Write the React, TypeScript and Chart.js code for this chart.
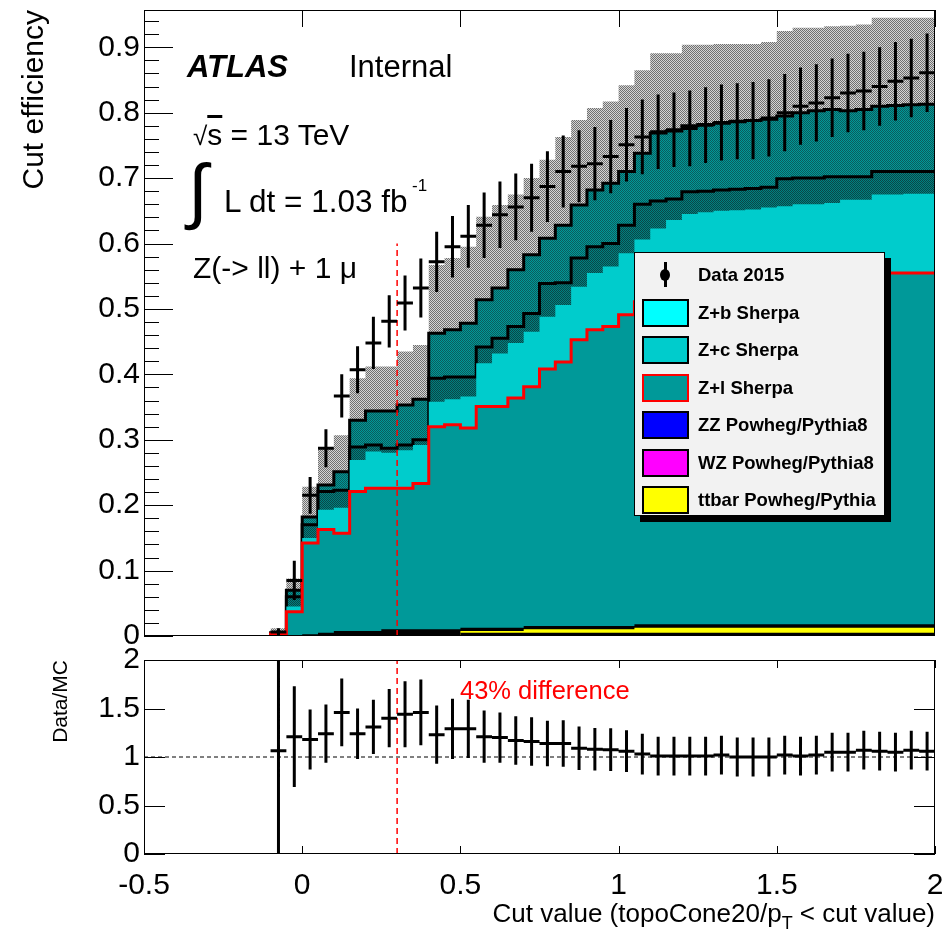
import React, { useEffect, useRef } from 'react';
import { Chart, registerables } from 'chart.js';

Chart.register(...registerables);

const FONT = '"Liberation Sans", Arial, Helvetica, sans-serif';

// ---- binning (cut value axis) ----
const X_MIN = -0.5;
const X_MAX = 2.0;
const BIN_START = -0.1;
const BIN_WIDTH = 0.05;
const CUT_VALUE = 0.3;

// ---- data (42 bins from -0.1 to 2.0) ----
const DATA = [0.006, 0.085, 0.215, 0.287, 0.367, 0.407, 0.448, 0.481, 0.509, 0.532,
  0.572, 0.595, 0.611, 0.628, 0.644, 0.656, 0.670, 0.687, 0.710, 0.718,
  0.722, 0.733, 0.751, 0.763, 0.771, 0.774, 0.776, 0.781, 0.785, 0.787,
  0.788, 0.792, 0.800, 0.810, 0.815, 0.823, 0.830, 0.833, 0.840, 0.848, 0.853, 0.861];
const DATA_ERR = [0.006, 0.03, 0.028, 0.029, 0.033, 0.036, 0.04, 0.04, 0.042, 0.045,
  0.046, 0.047, 0.048, 0.05, 0.051, 0.051, 0.052, 0.054, 0.055, 0.055,
  0.056, 0.056, 0.056, 0.057, 0.057, 0.057, 0.058, 0.058, 0.058, 0.058,
  0.059, 0.059, 0.059, 0.059, 0.059, 0.06, 0.06, 0.06, 0.06, 0.06, 0.06, 0.06];

// Z+l Sherpa (top of stack, red outline)
const ZL_TOP = [0.003, 0.037, 0.142, 0.163, 0.157, 0.221, 0.226, 0.226, 0.226, 0.233,
  0.320, 0.323, 0.318, 0.351, 0.351, 0.364, 0.381, 0.408, 0.419, 0.453,
  0.468, 0.473, 0.491, 0.511, 0.520, 0.527, 0.532, 0.535, 0.538, 0.540,
  0.542, 0.544, 0.546, 0.548, 0.550, 0.551, 0.552, 0.553, 0.555, 0.555, 0.555, 0.555];
// Z+c Sherpa (top of stack)
const ZC_TOP = [0.003, 0.045, 0.150, 0.193, 0.196, 0.269, 0.282, 0.280, 0.284, 0.292,
  0.358, 0.362, 0.366, 0.417, 0.432, 0.448, 0.465, 0.488, 0.506, 0.534,
  0.555, 0.565, 0.585, 0.606, 0.623, 0.636, 0.645, 0.648, 0.650, 0.651,
  0.652, 0.655, 0.657, 0.660, 0.660, 0.662, 0.667, 0.667, 0.675, 0.675, 0.676, 0.676];
// lower black outline
const STACK_LOW = [0.004, 0.060, 0.170, 0.221, 0.223, 0.289, 0.292, 0.287, 0.292, 0.300,
  0.394, 0.396, 0.396, 0.442, 0.455, 0.473, 0.493, 0.539, 0.540, 0.578,
  0.595, 0.600, 0.628, 0.660, 0.665, 0.668, 0.679, 0.680, 0.682, 0.683,
  0.684, 0.686, 0.699, 0.700, 0.700, 0.702, 0.702, 0.702, 0.710, 0.710, 0.710, 0.710];
// MC total (upper black outline)
const MC_TOTAL = [0.005, 0.070, 0.182, 0.231, 0.251, 0.330, 0.344, 0.344, 0.353, 0.362,
  0.463, 0.468, 0.478, 0.514, 0.532, 0.560, 0.583, 0.608, 0.628, 0.659,
  0.682, 0.692, 0.710, 0.738, 0.769, 0.772, 0.780, 0.782, 0.784, 0.786,
  0.788, 0.790, 0.795, 0.800, 0.803, 0.805, 0.803, 0.805, 0.810, 0.811, 0.812, 0.813];
// top of the uncertainty band
const BAND_TOP = [0.012, 0.088, 0.228, 0.287, 0.307, 0.394, 0.412, 0.412, 0.435, 0.445,
  0.567, 0.578, 0.595, 0.641, 0.659, 0.675, 0.700, 0.728, 0.763, 0.789,
  0.807, 0.817, 0.842, 0.865, 0.891, 0.891, 0.904, 0.904, 0.905, 0.905,
  0.905, 0.908, 0.925, 0.930, 0.930, 0.932, 0.933, 0.935, 0.945, 0.945, 0.945, 0.945];
// small backgrounds (ZZ, WZ, ttbar) outline band
const SMALL_BKG_TOP = [0.001, 0.0015, 0.0025, 0.005, 0.0076, 0.0076, 0.0076, 0.0102, 0.0102, 0.0102,
  0.0102, 0.0102, 0.0127, 0.0127, 0.0127, 0.0127, 0.0153, 0.0153, 0.0153, 0.0153,
  0.0153, 0.0153, 0.0153, 0.0178, 0.0178, 0.0178, 0.0178, 0.0178, 0.0178, 0.0178,
  0.0178, 0.0178, 0.0178, 0.0178, 0.0178, 0.0178, 0.0178, 0.0178, 0.0178, 0.0178, 0.0178, 0.0178];
const TTBAR_TOP = [0, 0, 0, 0, 0, 0, 0, 0, 0, 0,
  0, 0, 0.0076, 0.0076, 0.0076, 0.0076, 0.0102, 0.0102, 0.0102, 0.0102,
  0.0102, 0.0102, 0.0102, 0.0127, 0.0127, 0.0127, 0.0127, 0.0127, 0.0127, 0.0127,
  0.0127, 0.0127, 0.0127, 0.0127, 0.0127, 0.0127, 0.0127, 0.0127, 0.0127, 0.0127, 0.0127, 0.0127];
const TTBAR_BOTTOM = [0, 0, 0, 0, 0, 0, 0, 0, 0, 0,
  0, 0, 0.005, 0.005, 0.005, 0.005, 0.005, 0.005, 0.005, 0.005,
  0.005, 0.005, 0.005, 0.005, 0.005, 0.005, 0.005, 0.005, 0.005, 0.005,
  0.005, 0.005, 0.005, 0.005, 0.005, 0.005, 0.005, 0.005, 0.005, 0.005, 0.005, 0.005];

// Data/MC ratio
const RATIO = [1.065, 1.21, 1.18, 1.24, 1.46, 1.24, 1.31, 1.40, 1.44, 1.46,
  1.23, 1.29, 1.29, 1.21, 1.20, 1.17, 1.16, 1.14, 1.14, 1.09,
  1.08, 1.076, 1.06, 1.03, 1.01, 1.01, 1.01, 1.01, 1.02, 1.00,
  1.00, 1.00, 1.02, 1.01, 1.02, 1.05, 1.05, 1.07, 1.06, 1.05, 1.07, 1.06];
const RATIO_ERR = [2.0, 0.52, 0.31, 0.30, 0.35, 0.26, 0.28, 0.30, 0.34, 0.34,
  0.30, 0.31, 0.30, 0.27, 0.26, 0.25, 0.25, 0.235, 0.24, 0.225,
  0.22, 0.22, 0.215, 0.21, 0.20, 0.20, 0.20, 0.20, 0.20, 0.20,
  0.20, 0.20, 0.20, 0.20, 0.20, 0.20, 0.20, 0.20, 0.20, 0.20, 0.20, 0.20];

// ---- axes ----
const MAIN_Y_MAX = 0.957;
const MAIN_Y_MAJOR = [0, 0.1, 0.2, 0.3, 0.4, 0.5, 0.6, 0.7, 0.8, 0.9];
const MAIN_Y_MINOR_STEP = 0.02;
const X_MAJOR = [-0.5, 0, 0.5, 1, 1.5, 2];
const RATIO_Y_MAJOR = [0, 0.5, 1, 1.5, 2];

const LEGEND = [
  { label: 'Z+b Sherpa', fill: '#00ffff', border: '#000' },
  { label: 'Z+c Sherpa', fill: '#00cccc', border: '#000' },
  { label: 'Z+l Sherpa', fill: '#009999', border: '#ff0000' },
  { label: 'ZZ Powheg/Pythia8', fill: '#0000ff', border: '#000' },
  { label: 'WZ Powheg/Pythia8', fill: '#ff00ff', border: '#000' },
  { label: 'ttbar Powheg/Pythia', fill: '#ffff00', border: '#000' },
];

function stepPoints(vals: number[]) {
  const pts: { x: number; y: number }[] = [{ x: BIN_START, y: 0 }];
  vals.forEach((v, i) => pts.push({ x: BIN_START + i * BIN_WIDTH, y: v }));
  pts.push({ x: BIN_START + vals.length * BIN_WIDTH, y: vals[vals.length - 1] });
  return pts;
}

function errorBarPoints(vals: number[], errs: number[]) {
  const pts: { x: number; y: number | null }[] = [];
  const h = BIN_WIDTH / 2;
  vals.forEach((v, i) => {
    const c = BIN_START + (i + 0.5) * BIN_WIDTH;
    pts.push({ x: c, y: v - errs[i] }, { x: c, y: v + errs[i] }, { x: c, y: null });
    pts.push({ x: c - h, y: v }, { x: c + h, y: v }, { x: c + h, y: null });
  });
  return pts;
}

function makePattern(ctx: CanvasRenderingContext2D, a: string, b: string) {
  const cv = document.createElement('canvas');
  cv.width = 2;
  cv.height = 2;
  const g = cv.getContext('2d')!;
  g.fillStyle = a;
  g.fillRect(0, 0, 2, 2);
  g.fillStyle = b;
  g.fillRect(0, 0, 1, 1);
  g.fillRect(1, 1, 1, 1);
  return ctx.createPattern(cv, 'repeat');
}

type DecorCfg = {
  yMajor: number[]; yMajorLen: number; yMinorStep?: number; yMinorMax?: number; yMinorLen?: number; yRight: boolean;
  xMajor: number[]; xLen: number; xTop: boolean; xBottom: boolean;
};

function axisDecor(cfg: DecorCfg) {
  return {
    id: 'axisDecor',
    afterDatasetsDraw(chart: any) {
      const { ctx, chartArea: a, scales } = chart;
      const ys = scales.y;
      const xs = scales.x;
      ctx.save();
      ctx.strokeStyle = '#000';
      ctx.lineWidth = 1;
      const hl = (x0: number, x1: number, y: number) => {
        const yy = Math.round(y) + 0.5;
        ctx.beginPath(); ctx.moveTo(x0, yy); ctx.lineTo(x1, yy); ctx.stroke();
      };
      const vl = (x: number, y0: number, y1: number) => {
        const xx = Math.round(x) + 0.5;
        ctx.beginPath(); ctx.moveTo(xx, y0); ctx.lineTo(xx, y1); ctx.stroke();
      };
      cfg.yMajor.forEach((v) => {
        const y = ys.getPixelForValue(v);
        hl(a.left, a.left + cfg.yMajorLen, y);
        if (cfg.yRight) hl(a.right - cfg.yMajorLen, a.right, y);
      });
      if (cfg.yMinorStep) {
        for (let k = 0; k * cfg.yMinorStep <= (cfg.yMinorMax as number) + 1e-9; k++) {
          const y = ys.getPixelForValue(k * cfg.yMinorStep);
          hl(a.left, a.left + (cfg.yMinorLen as number), y);
        }
      }
      cfg.xMajor.forEach((v) => {
        const x = xs.getPixelForValue(v);
        if (cfg.xTop) vl(x, a.top, a.top + cfg.xLen);
        if (cfg.xBottom) vl(x, a.bottom - cfg.xLen, a.bottom);
      });
      ctx.strokeRect(a.left + 0.5, a.top + 0.5, a.right - a.left - 1, a.bottom - a.top - 1);
      ctx.restore();
    },
  };
}

function stepDataset(vals: number[], bg: any, border: string, width: number, order: number) {
  return {
    data: stepPoints(vals),
    stepped: true,
    fill: 'origin',
    backgroundColor: bg,
    borderColor: border,
    borderWidth: width,
    pointRadius: 0,
    order,
  };
}

const fixY = (s: any) => { s.width = 144; s.paddingTop = 0; s.paddingBottom = 0; s.paddingLeft = 0; s.paddingRight = 0; };
const fixX = (h: number) => (s: any) => { s.height = h; s.paddingLeft = 0; s.paddingRight = 0; s.paddingTop = 0; s.paddingBottom = 0; };

export default function App() {
  const mainRef = useRef<HTMLCanvasElement>(null);
  const ratioRef = useRef<HTMLCanvasElement>(null);

  useEffect(() => {
    const mctx = mainRef.current!.getContext('2d')!;
    const grayPat = makePattern(mctx, '#d4d4d4', '#707070');
    const tealPat = makePattern(mctx, '#009999', '#0b5c5c');
    const darkPat = makePattern(mctx, '#008080', '#0a4646');

    const main = new Chart(mainRef.current!, {
      type: 'line',
      data: {
        datasets: [
          { data: errorBarPoints(DATA, DATA_ERR), borderColor: '#000', borderWidth: 3, pointRadius: 0, fill: false, spanGaps: false, order: 0 },
          { data: [{ x: CUT_VALUE, y: 0 }, { x: CUT_VALUE, y: 0.6 }], borderColor: '#ff0000', borderWidth: 1.5, borderDash: [6, 4], pointRadius: 0, fill: false, order: 1 },
          stepDataset(TTBAR_BOTTOM, '#000', 'transparent', 0, 2),
          stepDataset(TTBAR_TOP, '#ffff00', 'transparent', 0, 3),
          stepDataset(SMALL_BKG_TOP, '#000', 'transparent', 0, 4),
          stepDataset(ZL_TOP, '#009999', '#ff0000', 3, 5),
          stepDataset(ZC_TOP, '#00cccc', 'transparent', 0, 6),
          stepDataset(STACK_LOW, darkPat, '#000', 3, 7),
          stepDataset(MC_TOTAL, tealPat, '#000', 3, 8),
          stepDataset(BAND_TOP, grayPat, 'transparent', 0, 9),
        ] as any,
      },
      options: {
        animation: false,
        responsive: false,
        devicePixelRatio: 1,
        events: [],
        layout: { padding: { top: 10, right: 8, bottom: 24, left: 0 } },
        plugins: { legend: { display: false }, tooltip: { enabled: false } },
        scales: {
          x: {
            type: 'linear', min: X_MIN, max: X_MAX,
            grid: { display: false }, border: { display: false },
            ticks: { display: false, stepSize: 0.5 },
            afterFit: fixX(0),
          },
          y: {
            type: 'linear', min: 0, max: MAIN_Y_MAX,
            grid: { display: false, drawTicks: false }, border: { display: false },
            ticks: {
              stepSize: 0.1, includeBounds: false, color: '#000', padding: 4,
              font: { family: FONT, size: 30 },
              callback: (v: any) => (Math.abs(v) < 1e-9 ? '0' : Number(v).toFixed(1)),
            },
            title: { display: true, text: 'Cut efficiency', align: 'end', color: '#000', font: { family: FONT, size: 30 }, padding: { top: 17, bottom: 0 } },
            afterFit: fixY,
          },
        },
      } as any,
      plugins: [axisDecor({ yMajor: MAIN_Y_MAJOR, yMajorLen: 29, yMinorStep: MAIN_Y_MINOR_STEP, yMinorMax: 0.95, yMinorLen: 15, yRight: false, xMajor: X_MAJOR, xLen: 17, xTop: true, xBottom: false })],
    });

    const ratio = new Chart(ratioRef.current!, {
      type: 'line',
      data: {
        datasets: [
          { data: errorBarPoints(RATIO, RATIO_ERR), borderColor: '#000', borderWidth: 3, pointRadius: 0, fill: false, spanGaps: false, order: 0 },
          { data: [{ x: CUT_VALUE, y: 0 }, { x: CUT_VALUE, y: 2 }], borderColor: '#ff0000', borderWidth: 1.5, borderDash: [6, 4], pointRadius: 0, fill: false, order: 1 },
          { data: [{ x: X_MIN, y: 1 }, { x: X_MAX, y: 1 }], borderColor: '#000', borderWidth: 1, borderDash: [4, 3], pointRadius: 0, fill: false, order: 2 },
        ] as any,
      },
      options: {
        animation: false,
        responsive: false,
        devicePixelRatio: 1,
        events: [],
        layout: { padding: { top: 20, right: 8, bottom: 0, left: 0 } },
        plugins: { legend: { display: false }, tooltip: { enabled: false } },
        scales: {
          x: {
            type: 'linear', min: X_MIN, max: X_MAX,
            grid: { display: false, drawTicks: false }, border: { display: false },
            ticks: {
              stepSize: 0.5, color: '#000', padding: 14, maxRotation: 0, autoSkip: false,
              font: { family: FONT, size: 30 },
              callback: (v: any) => String(Math.round(Number(v) * 10) / 10),
            },
            afterFit: fixX(79),
          },
          y: {
            type: 'linear', min: 0, max: 2,
            grid: { display: false, drawTicks: false }, border: { display: false },
            ticks: {
              stepSize: 0.5, color: '#000', padding: 4,
              font: { family: FONT, size: 30 },
              callback: (v: any) => String(Number(v)),
            },
            title: { display: true, text: 'Data/MC', align: 'end', color: '#000', font: { family: FONT, size: 21 }, padding: { top: 49, bottom: 0 } },
            afterFit: fixY,
          },
        },
      } as any,
      plugins: [axisDecor({ yMajor: RATIO_Y_MAJOR, yMajorLen: 21, yRight: true, xMajor: X_MAJOR, xLen: 8, xTop: true, xBottom: true })],
    });

    return () => {
      main.destroy();
      ratio.destroy();
    };
  }, []);

  const abs = (s: React.CSSProperties): React.CSSProperties => ({ position: 'absolute', whiteSpace: 'nowrap', lineHeight: 1, ...s });
  const LEG_LEFT = 634;
  const LEG_TOP = 252;
  const ROW0 = 22;
  const ROW_STEP = 37.5;

  return (
    <div style={{ position: 'absolute', left: 0, top: 0, width: 943, height: 933, background: '#fff', overflow: 'hidden', fontFamily: FONT, color: '#000' }}>
      <canvas ref={mainRef} width={943} height={660} style={{ position: 'absolute', left: 0, top: 0 }} />
      <canvas ref={ratioRef} width={943} height={293} style={{ position: 'absolute', left: 0, top: 640 }} />

      <div style={abs({ left: 187, top: 51, fontSize: 31, fontWeight: 'bold', fontStyle: 'italic' })}>ATLAS</div>
      <div style={abs({ left: 349, top: 51, fontSize: 31 })}>Internal</div>
      <div style={abs({ left: 193, top: 120, fontSize: 30 })}>
        <span style={{ fontSize: 26 }}>√</span><span style={{ textDecoration: 'overline' }}>s</span> = 13 TeV
      </div>
      <div style={abs({ left: 188, top: 154, fontSize: 72, fontFamily: '"DejaVu Sans", sans-serif', fontWeight: 200 })}>∫</div>
      <div style={abs({ left: 224, top: 186, fontSize: 31.5 })}>L dt = 1.03 fb</div>
      <div style={abs({ left: 412, top: 177, fontSize: 17 })}>-1</div>
      <div style={abs({ left: 193, top: 253, fontSize: 30 })}>Z(-&gt; ll) + 1 μ</div>

      <div style={abs({ left: 460, top: 678, fontSize: 25.5, color: '#ff0000' })}>43% difference</div>

      <div style={abs({ left: 0, width: 935, top: 900, fontSize: 26, textAlign: 'right' })}>
        Cut value (topoCone20/p<span style={{ fontSize: 18, position: 'relative', top: 7 }}>T</span> &lt; cut value)
      </div>

      <div style={{ position: 'absolute', left: LEG_LEFT, top: LEG_TOP, width: 251, height: 264, boxSizing: 'border-box', background: '#f2f2f2', border: '1px solid #000', boxShadow: '6px 6px 0 #000' }}>
        <div style={{ position: 'absolute', left: 28.5, top: ROW0 - 13, width: 3, height: 25, background: '#000' }} />
        <div style={{ position: 'absolute', left: 25, top: ROW0 - 6, width: 10, height: 12, borderRadius: '50%', background: '#000' }} />
        <div style={abs({ left: 63, top: ROW0 - 9, fontSize: 18.5, fontWeight: 'bold' })}>Data 2015</div>
        {LEGEND.map((e, i) => {
          const cy = ROW0 + (i + 1) * ROW_STEP;
          return (
            <React.Fragment key={e.label}>
              <div style={{ position: 'absolute', left: 7, top: cy - 14, width: 47, height: 28, boxSizing: 'border-box', background: e.fill, border: `2.5px solid ${e.border}` }} />
              <div style={abs({ left: 63, top: cy - 9, fontSize: 18.5, fontWeight: 'bold' })}>{e.label}</div>
            </React.Fragment>
          );
        })}
      </div>
    </div>
  );
}
